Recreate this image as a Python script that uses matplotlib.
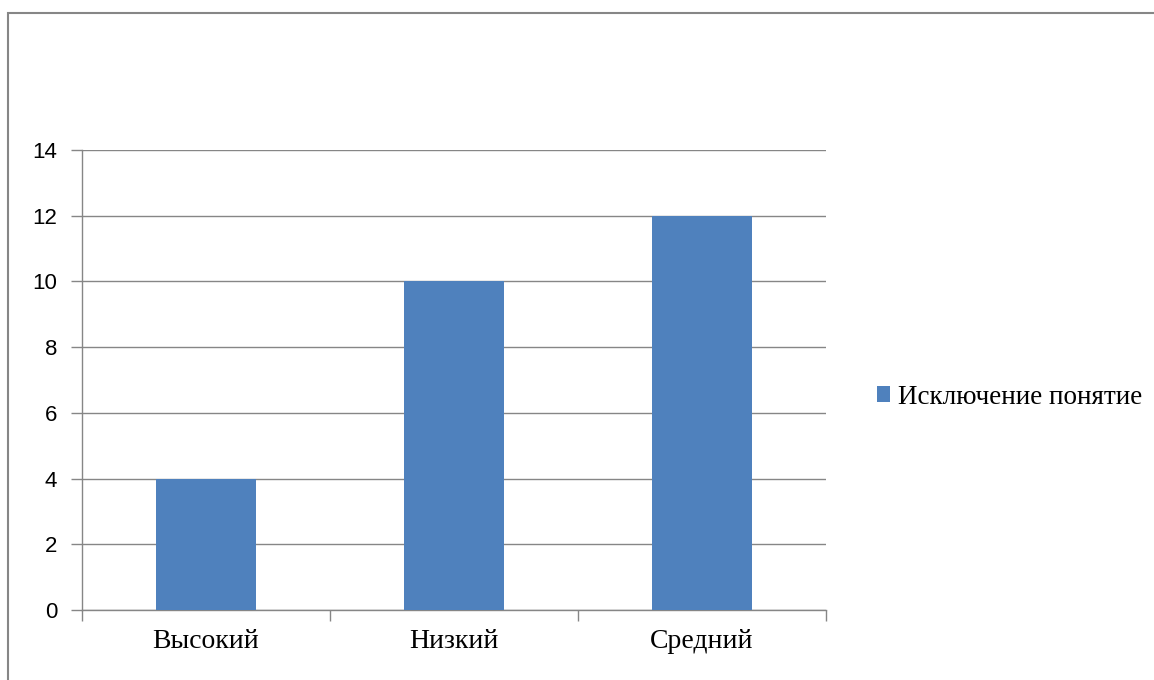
import matplotlib.pyplot as plt
from matplotlib.patches import Rectangle

# data
categories = ['Высокий', 'Низкий', 'Средний']
values = [4, 10, 12]
series_name = 'Исключение понятие'
y_ticks = [0, 2, 4, 6, 8, 10, 12, 14]

bar_color = '#4F81BD'
line_color = '#868686'

fig = plt.figure(figsize=(11.54, 6.8), dpi=100)

# outer chart border (right and bottom run off the picture)
fig.patches.append(Rectangle((8 / 1154, -0.1), 1.2, 1 - 13 / 680 + 0.1,
                             transform=fig.transFigure, fill=False,
                             edgecolor=line_color, linewidth=1.5))

ax = fig.add_axes([82 / 1154, 1 - 610 / 680, 744 / 1154, 460 / 680])

x = range(len(categories))
ax.bar(x, values, width=0.4, color=bar_color, label=series_name, zorder=3)

ax.set_xlim(-0.5, len(categories) - 0.5)
ax.set_ylim(0, 14)
ax.set_yticks(y_ticks)
ax.set_yticklabels([str(v) for v in y_ticks], family='Liberation Sans', fontsize=16)
ax.yaxis.grid(True, color=line_color, linewidth=1, zorder=0)

# categories between tick marks
ax.set_xticks([i - 0.5 for i in range(len(categories) + 1)])
ax.set_xticklabels([])
ax.set_xticks(list(x), minor=True)
ax.set_xticklabels(categories, minor=True, family='Liberation Serif', fontsize=20)
ax.tick_params(axis='x', which='minor', length=0, pad=14)
ax.tick_params(axis='x', which='major', length=8, color=line_color, width=1)
ax.tick_params(axis='y', length=8, color=line_color, width=1, pad=10)

for side in ['top', 'right']:
    ax.spines[side].set_visible(False)
for side in ['left', 'bottom']:
    ax.spines[side].set_color(line_color)
    ax.spines[side].set_linewidth(1)

fig.legend(loc='center left', bbox_to_anchor=(863 / 1154, 1 - 397 / 680),
           frameon=False, prop={'family': 'Liberation Serif', 'size': 19.5},
           handlelength=0.5, handleheight=0.5, handletextpad=0.28, borderpad=0)

fig.savefig('out.png', dpi=100)
